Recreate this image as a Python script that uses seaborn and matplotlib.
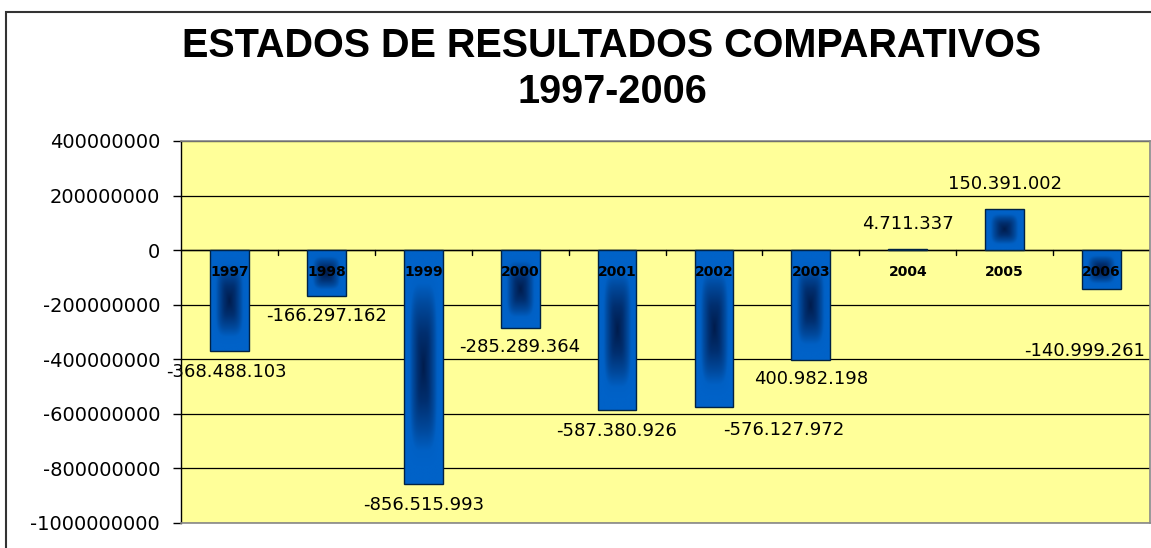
import numpy as np
import pandas as pd
import matplotlib
matplotlib.use("Agg")
import matplotlib.pyplot as plt
import seaborn as sns
from matplotlib.colors import LinearSegmentedColormap
from matplotlib.patches import Rectangle

# ---- data ----
years = ["1997", "1998", "1999", "2000", "2001", "2002", "2003", "2004", "2005", "2006"]
values = [-368488103, -166297162, -856515993, -285289364, -587380926,
          -576127972, -400982198, 4711337, 150391002, -140999261]
value_labels = ["-368.488.103", "-166.297.162", "-856.515.993", "-285.289.364",
                "-587.380.926", "-576.127.972", "400.982.198", "4.711.337",
                "150.391.002", "-140.999.261"]
y_ticks = [400000000, 200000000, 0, -200000000, -400000000, -600000000,
           -800000000, -1000000000]
title_line1 = "ESTADOS DE RESULTADOS COMPARATIVOS"
title_line2 = "1997-2006"

sns.set_theme(style="white")
plt.rcParams["font.family"] = ["DejaVu Sans"]
plt.rcParams["text.color"] = "black"

W, H, DPI = 1151, 548, 100
fig = plt.figure(figsize=(W / DPI, H / DPI), dpi=DPI)
fig.patch.set_facecolor("white")

# outer frame (left/top visible, right/bottom cut off)
fig.patches.append(Rectangle((6 / W, -0.1), 1.2, 1.1 - 12 / H, transform=fig.transFigure,
                             fill=False, edgecolor="#333333", linewidth=1.5, zorder=0))

ax = fig.add_axes([181 / W, (H - 523) / H, (1150 - 181) / W, (523 - 141) / H])
ax.set_facecolor("#FFFF99")

df = pd.DataFrame({"year": years, "value": values})
sns.barplot(data=df, x="year", y="value", ax=ax, color="#0060C8", width=0.4,
            edgecolor="#002244", linewidth=1.0, saturation=1, zorder=3)

# gradient fill on bars (dark centre, bright edges)
cmap = LinearSegmentedColormap.from_list(
    "barg", [(0.0, "#001c4c"), (0.35, "#002f70"), (0.65, "#004a9e"),
             (0.85, "#0060c4"), (1.0, "#0062c8")])
ny, nx = 200, 60
u = np.linspace(-1, 1, nx)[None, :]
v = np.linspace(-1, 1, ny)[:, None]
pn = 4.0
t = np.clip((np.abs(u) ** pn + np.abs(v) ** pn) ** (1 / pn) / 0.85, 0, 1)
for p in list(ax.patches):
    x0, y0 = p.get_x(), p.get_y()
    w, h = p.get_width(), p.get_height()
    if abs(h) < 1:
        continue
    im = ax.imshow(t, extent=[x0, x0 + w, min(y0, y0 + h), max(y0, y0 + h)],
                   cmap=cmap, vmin=0, vmax=1, aspect="auto", zorder=3.1,
                   interpolation="bilinear")
    im.set_clip_path(p)
    p.set_zorder(3.2)
    p.set_facecolor("none")

ax.set_xlim(-0.5, len(years) - 0.5)
ax.set_ylim(-1000000000, 400000000)

# gridlines
for yt in y_ticks:
    ax.axhline(yt, color="black", linewidth=0.9, zorder=1)
ax.axhline(0, color="black", linewidth=1.0, zorder=2)

# category boundary ticks on zero line
for b in np.arange(0.5, len(years) - 0.5, 1.0):
    ax.plot([b, b], [0, -17000000], color="black", linewidth=1.0, zorder=2)

# spines
for s in ["top", "right", "bottom"]:
    ax.spines[s].set_color("#888888")
    ax.spines[s].set_linewidth(1.2)
ax.spines["left"].set_color("black")
ax.spines["left"].set_linewidth(1.0)

ax.set_yticks(y_ticks)
ax.set_yticklabels([str(tk) for tk in y_ticks], fontsize=14, color="black")
ax.tick_params(axis="y", direction="out", length=6, width=1, color="black", pad=9, left=True)
ax.set_xticks([])
ax.set_xlabel("")
ax.set_ylabel("")

# category labels near zero
for i, yr in enumerate(years):
    ax.annotate(yr, xy=(i, 0), xytext=(0, -16), textcoords="offset points",
                ha="center", va="center", fontsize=10, fontweight="bold",
                color="black", zorder=10, annotation_clip=False)

# value labels
offsets = [(-2, -15), (0, -15), (0, -15), (0, -14), (0, -15),
           (50, -16), (0, -14), (0, 18), (0, 18), (-12, -45)]
for i, (val, lab) in enumerate(zip(values, value_labels)):
    dx, dy = offsets[i]
    ax.annotate(lab, xy=(i, val), xytext=(dx, dy), textcoords="offset points",
                ha="center", va="center", fontsize=13, color="black",
                zorder=10, annotation_clip=False)

fig.text(612 / W, 1 - 46 / H, title_line1, ha="center", va="center", color="black",
         fontsize=28.5, fontweight="bold", family="Liberation Sans")
fig.text(612 / W, 1 - 92 / H, title_line2, ha="center", va="center", color="black",
         fontsize=28.5, fontweight="bold", family="Liberation Sans")

fig.savefig("out.png", dpi=DPI, facecolor="white")
